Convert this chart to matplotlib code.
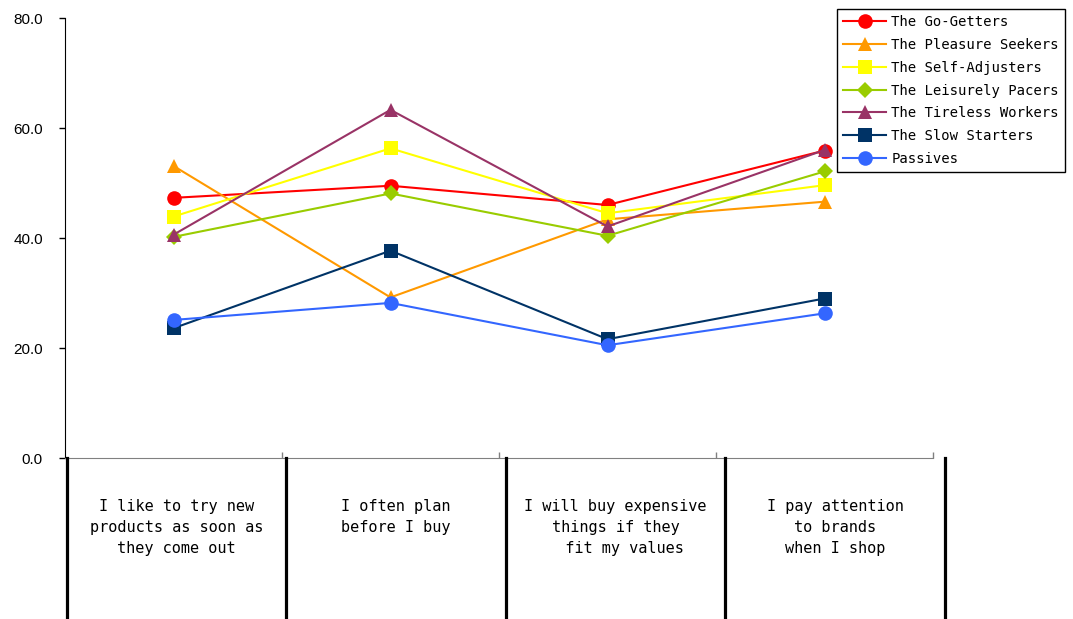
import matplotlib
matplotlib.use("Agg")
import matplotlib.pyplot as plt
from matplotlib.lines import Line2D

categories = [
    "I like to try new\nproducts as soon as\nthey come out",
    "I often plan\nbefore I buy",
    "I will buy expensive\nthings if they\n  fit my values",
    "I pay attention\nto brands\nwhen I shop",
]
series_names = [
    "The Go-Getters",
    "The Pleasure Seekers",
    "The Self-Adjusters",
    "The Leisurely Pacers",
    "The Tireless Workers",
    "The Slow Starters",
    "Passives",
]
go_getters = [47.3, 49.5, 46.0, 55.9]
pleasure_seekers = [53.1, 29.2, 43.4, 46.6]
self_adjusters = [43.9, 56.3, 44.5, 49.6]
leisurely_pacers = [40.2, 48.1, 40.4, 52.1]
tireless_workers = [40.6, 63.3, 42.1, 56.0]
slow_starters = [23.6, 37.7, 21.6, 29.0]
passives = [25.1, 28.2, 20.5, 26.3]
yticks = [0, 20, 40, 60, 80]

values = [go_getters, pleasure_seekers, self_adjusters, leisurely_pacers,
          tireless_workers, slow_starters, passives]
colors = ["#FF0000", "#FF9900", "#FFFF00", "#99CC00", "#993366", "#003366", "#3366FF"]
markers = ["o", "^", "s", "D", "^", "s", "o"]
msizes = [10.5, 10.5, 10, 8.5, 10.5, 10, 10.5]

W, H = 1073, 619
fig = plt.figure(figsize=(W / 100, H / 100), dpi=100)
ax = fig.add_axes([65 / W, (H - 458) / H, (933 - 65) / W, (458 - 18) / H])

x = list(range(len(categories)))
for vals, name, c, m, ms in zip(values, series_names, colors, markers, msizes):
    ax.plot(x, vals, color=c, marker=m, markersize=ms, lw=1.5, label=name,
            markeredgewidth=0, clip_on=False)

ax.set_xlim(-0.5, 3.5)
ax.set_ylim(0, 80)
ax.set_yticks(yticks)
ax.set_yticklabels([f"{v:.1f}" for v in yticks], fontfamily="Liberation Sans", fontsize=11)
ax.set_xticks([0.5, 1.5, 2.5, 3.5])
ax.set_xticklabels([])
ax.tick_params(axis="x", direction="in", length=4, color="#808080", width=1)
ax.tick_params(axis="y", direction="out", length=4, pad=12, width=1)
ax.spines["top"].set_visible(False)
ax.spines["right"].set_visible(False)
ax.spines["bottom"].set_color("#808080")

leg = fig.legend(loc="upper left", bbox_to_anchor=(837 / W, 1 - 9 / H),
                 prop={"family": "DejaVu Sans Mono", "size": 10},
                 frameon=True, fancybox=False, edgecolor="black", framealpha=1,
                 handlelength=3.1, labelspacing=0.63, borderpad=0.45,
                 handletextpad=0.35, borderaxespad=0)
leg.get_frame().set_linewidth(1)

# table-like divider lines below the axis
box_edges = [67, 286, 506, 725, 945]
for xe in box_edges:
    fig.add_artist(Line2D([xe / W, xe / W], [0, (H - 458) / H], color="black",
                          lw=2.3, transform=fig.transFigure))
for i, lab in enumerate(categories):
    cx = (box_edges[i] + box_edges[i + 1]) / 2 / W
    fig.text(cx, 1 - 499 / H, lab, ha="center", va="top", fontsize=11,
             family="DejaVu Sans Mono", linespacing=1.5, multialignment="center")

fig.savefig("out.png", dpi=100)
